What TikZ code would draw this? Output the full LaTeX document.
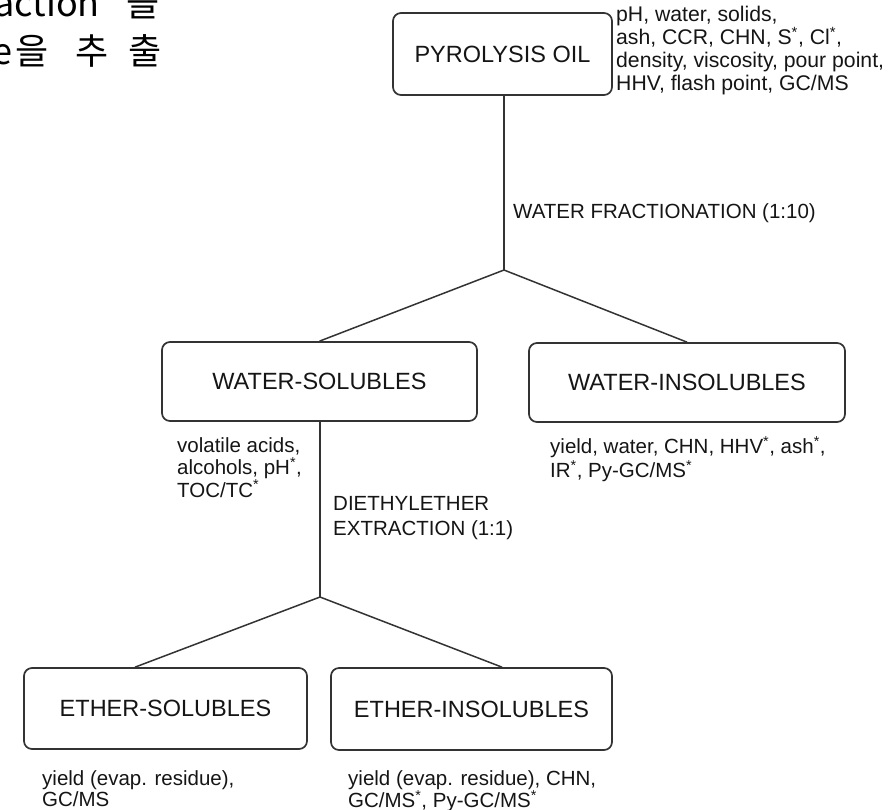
\documentclass[tikz,border=0pt]{standalone}
\usepackage{fontspec}
\setmainfont{Liberation Sans}
\newfontfamily\krfont{Noto Sans CJK KR}
\definecolor{linec}{HTML}{333333}
\definecolor{txtc}{HTML}{151515}
\begin{document}
\begin{tikzpicture}[x=1pt,y=-1pt,
  box/.style={draw=linec, line width=1.7pt, rounded corners=8pt, inner sep=0pt, text=txtc, font=\fontsize{23.5}{27}\selectfont},
  lbl/.style={anchor=north west, inner sep=0pt, align=left, text=txtc, font=\fontsize{20.5}{23}\selectfont},
  conn/.style={draw=linec, line width=1.5pt},
  kr/.style={inner sep=0pt, text=black, font=\krfont\fontsize{36}{40}\selectfont}]
\useasboundingbox (0,0) rectangle (893,809);
\clip (0,0) rectangle (893,809);

% Korean fragments (cropped at the picture's edge)
\node[kr, anchor=base east] (k1) at (100,16) {action};
\node[kr, anchor=base west] (k2) at (126.5,16) {을};
\node[kr, anchor=base east] (k3) at (13,64.5) {e};
\node[kr, anchor=base west] (k4) at (15.5,64.5) {을};
\node[kr, anchor=base west] (k5) at (75.5,64.5) {추};
\node[kr, anchor=base west] (k6) at (128.5,64.5) {출};

% boxes
\node[box, minimum width=219pt, minimum height=82pt] (P) at (502.5,54) {PYROLYSIS OIL};
\node[box, minimum width=315pt, minimum height=79pt] (WS) at (319.5,381.5) {WATER-SOLUBLES};
\node[box, minimum width=316pt, minimum height=79pt] (WI) at (687,382.5) {WATER-INSOLUBLES};
\node[box, minimum width=283pt, minimum height=81pt] (ES) at (165.5,708.5) {ETHER-SOLUBLES};
\node[box, minimum width=281pt, minimum height=82pt] (EI) at (471.5,709) {ETHER-INSOLUBLES};

% connectors
\coordinate (J1) at (504,270);
\coordinate (J2) at (320,597);
\draw[conn] (P.south -| J1) -- (J1);
\draw[conn] (WS.north) -- (J1) -- (WI.north);
\draw[conn] (WS.south -| J2) -- (J2);
\draw[conn] ([xshift=-30.5pt]ES.north) -- (J2) -- ([xshift=30.5pt]EI.north);

% labels
\node[lbl, font=\fontsize{21.2}{23}\selectfont] (Pl) at (616,6) {pH, water, solids,\\ ash, CCR, CHN, S\textsuperscript{*}, Cl\textsuperscript{*},\\ density, viscosity, pour point,\\ HHV, flash point, GC/MS};
\node[lbl] (WF) at (513,203) {WATER FRACTIONATION (1:10)};
\node[lbl, font=\fontsize{20.5}{22.5}\selectfont] (WSl) at (177,437) {volatile acids,\\ alcohols, pH\textsuperscript{*},\\ TOC/TC\textsuperscript{*}};
\node[lbl, font=\fontsize{20.5}{25.5}\selectfont] (DE) at (333,496) {DIETHYLETHER\\ EXTRACTION (1:1)};
\node[lbl, font=\fontsize{20.5}{24}\selectfont] (WIl) at (550,436) {yield, water, CHN, HHV\textsuperscript{*}, ash\textsuperscript{*},\\ IR\textsuperscript{*}, Py-GC/MS\textsuperscript{*}};
\node[lbl, font=\fontsize{20.5}{21.5}\selectfont] (ESl) at (42,770) {yield (evap. residue),\\ GC/MS};
\node[lbl, font=\fontsize{20.5}{21.5}\selectfont] (EIl) at (348,770) {yield (evap. residue), CHN,\\ GC/MS\textsuperscript{*}, Py-GC/MS\textsuperscript{*}};
\end{tikzpicture}
\end{document}
